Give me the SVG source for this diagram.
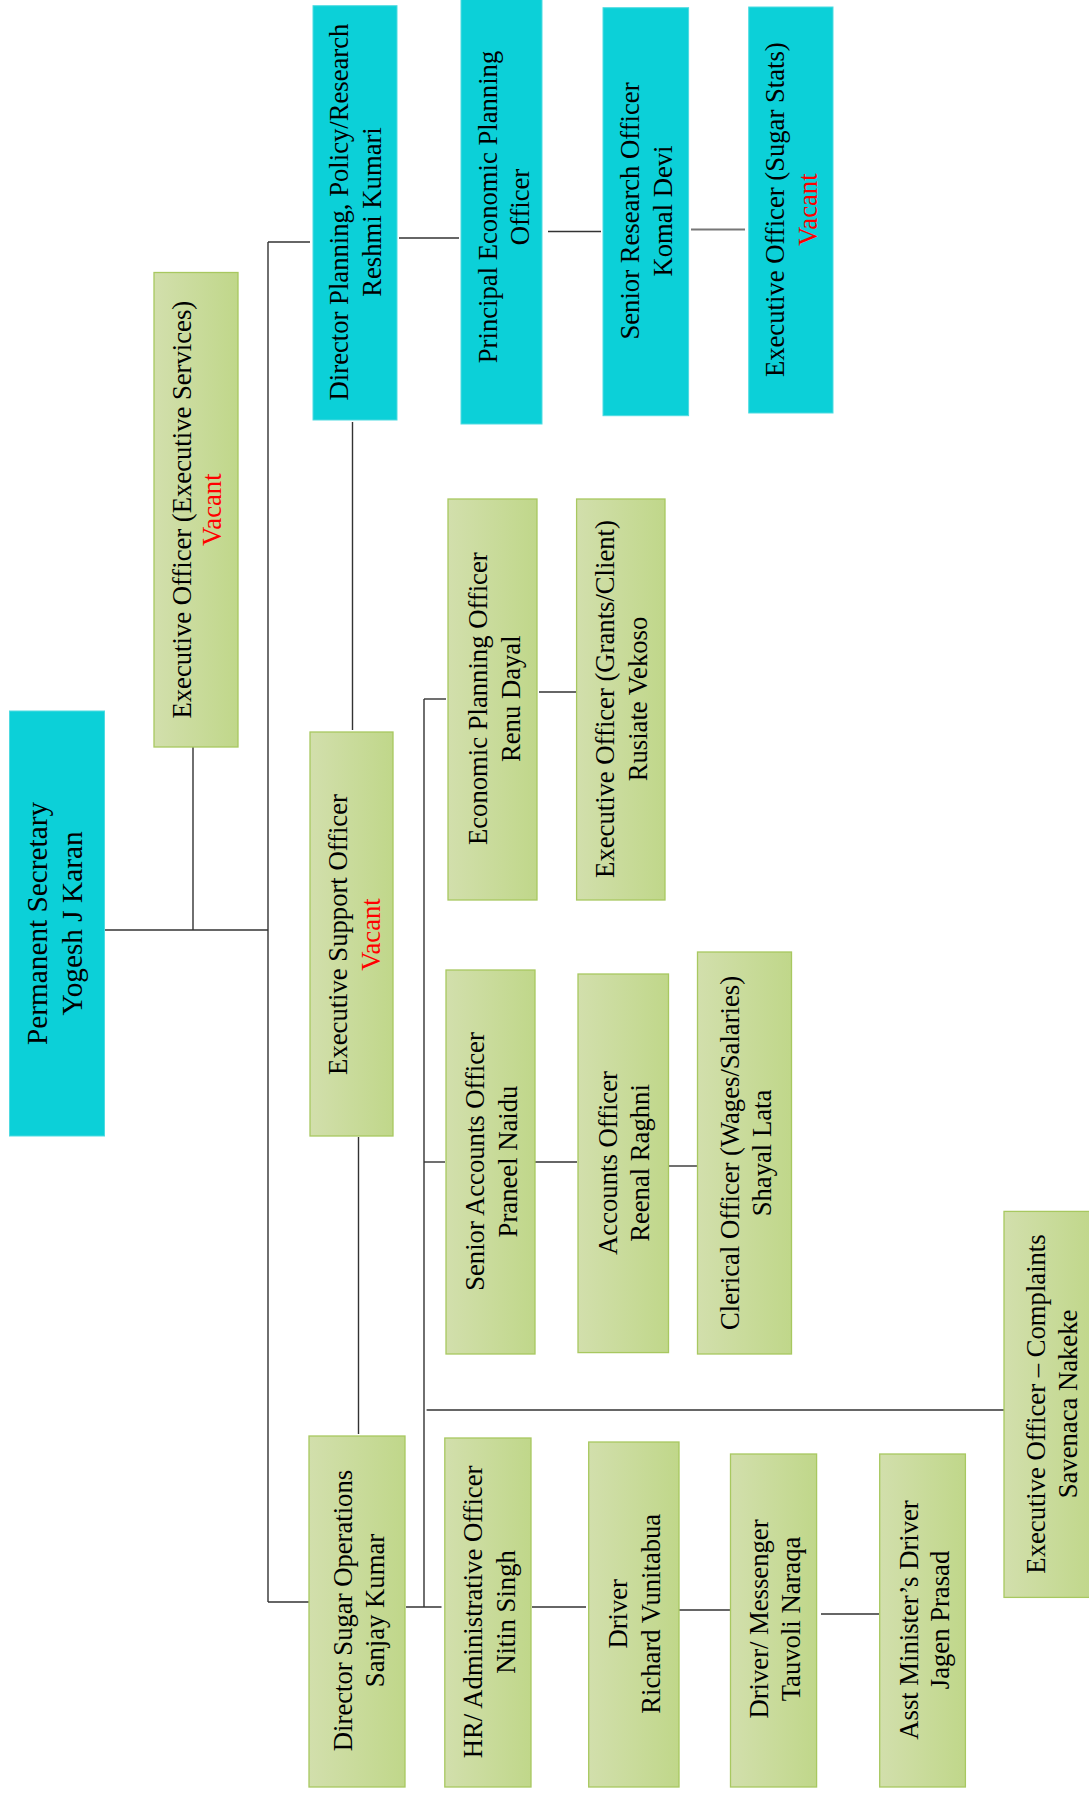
<svg xmlns="http://www.w3.org/2000/svg" width="1089" height="1798" viewBox="0 0 1089 1798">
<defs>
<linearGradient id="g" x1="0" y1="0" x2="1" y2="0">
<stop offset="0" stop-color="#D2DFAC"/>
<stop offset="1" stop-color="#C0D78A"/>
</linearGradient>
</defs>
<style>
.cy{fill:#0CD0D8;stroke:#4FDBE1;stroke-width:1}
.gr{fill:url(#g);stroke:#A8C860;stroke-width:1.3}
text{font-family:"Liberation Serif","Times New Roman",serif;font-size:26.67px;fill:#000;text-anchor:middle}
.big{font-size:29.3px}
.red{fill:#FF0000}
.c line{stroke:#333;stroke-width:1.4;fill:none}
.c .gy{stroke:#777;stroke-width:2}
</style>
<rect width="1089" height="1798" fill="#fff"/>
<g class="c" id="connectors">
<line x1="104.5" y1="930" x2="268" y2="930"/>
<line x1="193" y1="747" x2="193" y2="930"/>
<line x1="268" y1="242" x2="268" y2="1602"/>
<line x1="268" y1="242" x2="310" y2="242"/>
<line x1="268" y1="1602" x2="309" y2="1602"/>
<line x1="399" y1="238" x2="459" y2="238"/>
<line x1="548" y1="231.5" x2="601" y2="231.5"/>
<line class="gy" x1="691" y1="229.6" x2="745" y2="229.6"/>
<line x1="352.5" y1="422" x2="352.5" y2="730"/>
<line x1="358.5" y1="1137" x2="358.5" y2="1434"/>
<line x1="424" y1="699" x2="424" y2="1607"/>
<line x1="424" y1="699" x2="446" y2="699"/>
<line x1="539" y1="692" x2="579" y2="692"/>
<line x1="424" y1="1162" x2="445" y2="1162"/>
<line x1="535" y1="1162" x2="577" y2="1162"/>
<line x1="668" y1="1166" x2="697" y2="1166"/>
<line x1="426.6" y1="1410" x2="1004" y2="1410"/>
<line x1="406" y1="1607" x2="441.5" y2="1607"/>
<line x1="532" y1="1607" x2="586" y2="1607"/>
<line x1="679" y1="1610" x2="730" y2="1610"/>
<line x1="821" y1="1614" x2="879" y2="1614"/>
</g>
<g id="ps">
<rect class="cy" x="9.5" y="711" width="95" height="425"/>
<text class="big" transform="translate(47,923.5) rotate(-90)"><tspan x="0" y="0">Permanent Secretary</tspan><tspan x="0" dy="34.7">Yogesh J Karan</tspan></text>
</g>
<g id="eo-exec-services">
<rect class="gr" x="154" y="272.5" width="84" height="474.5"/>
<text transform="translate(190.5,509.7) rotate(-90)"><tspan x="0" y="0">Executive Officer (Executive Services)</tspan><tspan class="red" x="0" dy="30.5">Vacant</tspan></text>
</g>
<g id="dir-planning">
<rect class="cy" x="313" y="5.7" width="84" height="414.3"/>
<text transform="translate(347.6,212) rotate(-90)"><tspan x="0" y="0">Director Planning, Policy/Research</tspan><tspan x="0" dy="33.4">Reshmi Kumari</tspan></text>
</g>
<g id="pepo">
<rect class="cy" x="461" y="-1" width="81" height="425"/>
<text transform="translate(497,207) rotate(-90)"><tspan x="0" y="0">Principal Economic Planning</tspan><tspan x="0" dy="32.4">Officer</tspan></text>
</g>
<g id="sro">
<rect class="cy" x="603" y="7.7" width="85.6" height="408"/>
<text transform="translate(638.7,211) rotate(-90)"><tspan x="0" y="0">Senior Research Officer</tspan><tspan x="0" dy="33">Komal Devi</tspan></text>
</g>
<g id="eo-sugar-stats">
<rect class="cy" x="748.7" y="7" width="84.3" height="406"/>
<text transform="translate(784.4,209.7) rotate(-90)"><tspan x="0" y="0">Executive Officer (Sugar Stats)</tspan><tspan class="red" x="0" dy="32.3">Vacant</tspan></text>
</g>
<g id="eso">
<rect class="gr" x="310" y="732" width="83" height="404"/>
<text transform="translate(346.5,934.5) rotate(-90)"><tspan x="0" y="0">Executive Support Officer</tspan><tspan class="red" x="0" dy="33.5">Vacant</tspan></text>
</g>
<g id="epo">
<rect class="gr" x="448" y="499" width="89" height="401"/>
<text transform="translate(487,698.7) rotate(-90)"><tspan x="0" y="0">Economic Planning Officer</tspan><tspan x="0" dy="32.5">Renu Dayal</tspan></text>
</g>
<g id="eo-grants">
<rect class="gr" x="576.6" y="499" width="88.4" height="401"/>
<text transform="translate(614,699) rotate(-90)"><tspan x="0" y="0">Executive Officer (Grants/Client)</tspan><tspan x="0" dy="33">Rusiate Vekoso</tspan></text>
</g>
<g id="sao">
<rect class="gr" x="446" y="970" width="89" height="384"/>
<text transform="translate(483.5,1161.5) rotate(-90)"><tspan x="0" y="0">Senior Accounts Officer</tspan><tspan x="0" dy="33.5">Praneel Naidu</tspan></text>
</g>
<g id="ao">
<rect class="gr" x="578" y="974" width="90.5" height="378.6"/>
<text transform="translate(617,1163) rotate(-90)"><tspan x="0" y="0">Accounts Officer</tspan><tspan x="0" dy="32">Reenal Raghni</tspan></text>
</g>
<g id="clerical">
<rect class="gr" x="697.5" y="952" width="94" height="402"/>
<text transform="translate(738.5,1153) rotate(-90)"><tspan x="0" y="0">Clerical Officer (Wages/Salaries)</tspan><tspan x="0" dy="32.5">Shayal Lata</tspan></text>
</g>
<g id="dso">
<rect class="gr" x="309" y="1436" width="96" height="351"/>
<text transform="translate(352,1610.5) rotate(-90)"><tspan x="0" y="0">Director Sugar Operations</tspan><tspan x="0" dy="32">Sanjay Kumar</tspan></text>
</g>
<g id="hr">
<rect class="gr" x="444.8" y="1438" width="86.2" height="349"/>
<text transform="translate(482,1612) rotate(-90)"><tspan x="0" y="0">HR/ Administrative Officer</tspan><tspan x="0" dy="33">Nitin Singh</tspan></text>
</g>
<g id="driver">
<rect class="gr" x="588.7" y="1442" width="90.3" height="345"/>
<text transform="translate(627,1613.8) rotate(-90)"><tspan x="0" y="0">Driver</tspan><tspan x="0" dy="33">Richard Vunitabua</tspan></text>
</g>
<g id="driver-messenger">
<rect class="gr" x="730.5" y="1454" width="86.1" height="333"/>
<text transform="translate(768,1619) rotate(-90)"><tspan x="0" y="0">Driver/ Messenger</tspan><tspan x="0" dy="32">Tauvoli Naraqa</tspan></text>
</g>
<g id="asst-driver">
<rect class="gr" x="879.7" y="1454" width="85.7" height="333"/>
<text transform="translate(917.7,1620) rotate(-90)"><tspan x="0" y="0">Asst Minister’s Driver</tspan><tspan x="0" dy="31.5">Jagen Prasad</tspan></text>
</g>
<g id="eo-complaints">
<rect class="gr" x="1004" y="1211.4" width="90" height="386"/>
<text transform="translate(1044.5,1404) rotate(-90)"><tspan x="0" y="0">Executive Officer – Complaints</tspan><tspan x="0" dy="32">Savenaca Nakeke</tspan></text>
</g>
</svg>
